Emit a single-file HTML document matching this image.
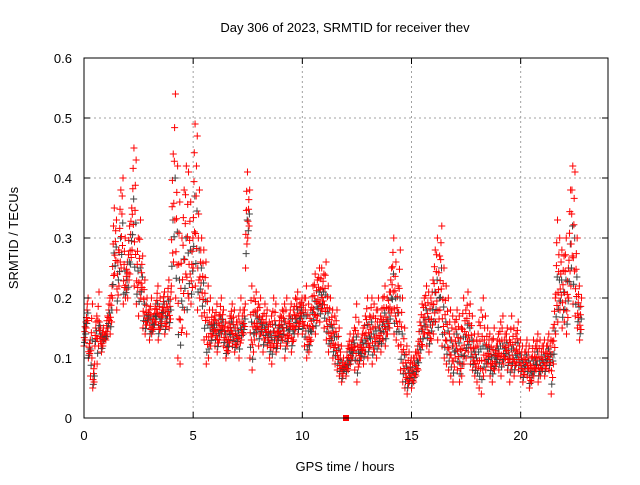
<!DOCTYPE html>
<html><head><meta charset="utf-8"><style>
body{margin:0;background:#fff}
svg text{font-family:"Liberation Sans",sans-serif;font-size:13px;fill:#000}
</style></head><body>
<svg id="chart" width="640" height="480" xmlns="http://www.w3.org/2000/svg">
<rect width="640" height="480" fill="#fff"/>
<g id="grid"></g>
<g id="pts"></g>
<rect x="84" y="58" width="524" height="360" fill="none" stroke="#000" stroke-width="1"/>
<g id="axes"></g>
<text x="345" y="32" text-anchor="middle">Day 306 of 2023, SRMTID for receiver thev</text>
<text x="345" y="471" text-anchor="middle">GPS time / hours</text>
<text x="18" y="238" text-anchor="middle" transform="rotate(-90 18 238)">SRMTID / TECUs</text>
</svg>
<script>
const xTicks=[0,5,10,15,20];
const yTicks=[0,0.1,0.2,0.3,0.4,0.5,0.6];
const yTickLabels=["0","0.1","0.2","0.3","0.4","0.5","0.6"];
const seriesHigh=[0.16,0.2,0.13,0.19,0.09,0.17,0.21,0.12,0.15,0.14,
0.17,0.2,0.22,0.35,0.33,0.28,0.38,0.4,0.3,0.26,
0.32,0.35,0.45,0.43,0.3,0.33,0.27,0.23,0.2,0.18,
0.2,0.17,0.19,0.22,0.2,0.18,0.21,0.19,0.23,0.21,
0.44,0.54,0.42,0.36,0.3,0.38,0.42,0.41,0.36,0.3,
0.49,0.47,0.38,0.3,0.28,0.26,0.22,0.2,0.18,0.17,
0.19,0.17,0.2,0.18,0.16,0.15,0.17,0.19,0.18,0.16,
0.17,0.2,0.18,0.19,0.41,0.38,0.22,0.2,0.21,0.19,
0.2,0.17,0.19,0.18,0.16,0.17,0.2,0.19,0.15,0.17,
0.18,0.19,0.2,0.17,0.19,0.18,0.2,0.21,0.19,0.2,
0.2,0.22,0.19,0.18,0.22,0.24,0.23,0.25,0.25,0.24,
0.26,0.22,0.2,0.18,0.17,0.18,0.15,0.12,0.1,0.09,
0.12,0.14,0.13,0.15,0.19,0.16,0.13,0.15,0.17,0.2,
0.17,0.2,0.19,0.18,0.2,0.17,0.2,0.22,0.2,0.21,
0.25,0.3,0.26,0.22,0.28,0.2,0.15,0.12,0.11,0.1,
0.1,0.11,0.12,0.16,0.19,0.2,0.22,0.21,0.2,0.23,
0.28,0.3,0.27,0.32,0.25,0.22,0.2,0.18,0.17,0.16,
0.18,0.17,0.15,0.2,0.18,0.21,0.19,0.17,0.14,0.13,
0.16,0.18,0.2,0.17,0.15,0.14,0.13,0.15,0.12,0.14,
0.16,0.17,0.14,0.15,0.13,0.17,0.15,0.14,0.16,0.13,
0.12,0.11,0.13,0.12,0.1,0.13,0.12,0.14,0.13,0.12,
0.13,0.12,0.14,0.13,0.15,0.2,0.33,0.3,0.28,0.27,
0.3,0.25,0.38,0.42,0.41,0.3,0.22,0.2];
const seriesLow=[0.12,0.15,0.1,0.07,0.05,0.12,0.09,0.16,0.11,0.13,
0.13,0.15,0.14,0.2,0.24,0.18,0.22,0.25,0.19,0.2,
0.2,0.24,0.28,0.22,0.19,0.17,0.2,0.15,0.14,0.16,
0.13,0.14,0.15,0.16,0.13,0.15,0.17,0.14,0.16,0.15,
0.22,0.26,0.2,0.1,0.09,0.15,0.18,0.14,0.2,0.19,
0.25,0.22,0.18,0.2,0.17,0.13,0.09,0.1,0.12,0.14,
0.12,0.11,0.13,0.14,0.12,0.1,0.11,0.13,0.12,0.11,
0.12,0.1,0.13,0.14,0.25,0.3,0.1,0.08,0.13,0.14,
0.12,0.14,0.11,0.13,0.12,0.1,0.09,0.12,0.11,0.13,
0.12,0.13,0.1,0.12,0.14,0.11,0.13,0.15,0.14,0.16,
0.14,0.12,0.1,0.11,0.13,0.15,0.14,0.17,0.16,0.18,
0.15,0.13,0.11,0.12,0.1,0.09,0.08,0.07,0.06,0.08,
0.07,0.08,0.09,0.1,0.08,0.06,0.09,0.1,0.09,0.11,
0.1,0.12,0.09,0.11,0.1,0.12,0.11,0.13,0.12,0.14,
0.15,0.18,0.14,0.13,0.12,0.08,0.06,0.05,0.04,0.06,
0.05,0.06,0.07,0.08,0.1,0.12,0.14,0.12,0.11,0.13,
0.14,0.16,0.13,0.18,0.12,0.1,0.09,0.08,0.07,0.06,
0.1,0.08,0.06,0.07,0.09,0.1,0.11,0.09,0.08,0.07,
0.06,0.05,0.04,0.07,0.08,0.09,0.07,0.06,0.08,0.09,
0.08,0.07,0.09,0.1,0.08,0.06,0.08,0.07,0.09,0.08,
0.07,0.06,0.08,0.07,0.05,0.06,0.07,0.08,0.06,0.07,
0.08,0.07,0.09,0.08,0.04,0.09,0.14,0.16,0.18,0.15,
0.16,0.14,0.2,0.22,0.19,0.17,0.15,0.13];
const markerTime=[12];
const markerVal=[0];
const NS="http://www.w3.org/2000/svg";
const X0=84,X1=608,Y0=418,Y1=58,XMAX=24,YMAX=0.6;
function sx(v){return X0+(X1-X0)*v/XMAX;}
function sy(v){return Y0-(Y0-Y1)*v/YMAX;}
function mk(tag,at,parent){const e=document.createElementNS(NS,tag);for(const k in at)e.setAttribute(k,at[k]);parent.appendChild(e);return e;}
const grid=document.getElementById('grid'),axes=document.getElementById('axes'),pts=document.getElementById('pts');
xTicks.forEach(t=>{const x=sx(t);
 const g=mk('line',{x1:x,x2:x,y1:Y0,y2:Y1,stroke:'#a0a0a0','stroke-dasharray':'2,3'},grid);
 
 
 mk('line',{x1:x,x2:x,y1:Y0,y2:Y0-6,stroke:'#000'},axes);
 mk('line',{x1:x,x2:x,y1:Y1,y2:Y1+6,stroke:'#000'},axes);
 const tx=mk('text',{x:x,y:Y0+22,'text-anchor':'middle'},axes);tx.textContent=t;
 
 
});
yTicks.forEach((t,i)=>{const y=sy(t);
 const g=mk('line',{x1:X0,x2:X1,y1:y,y2:y,stroke:'#a0a0a0','stroke-dasharray':'2,3'},grid);
 
 
 mk('line',{x1:X0,x2:X0+6,y1:y,y2:y,stroke:'#000'},axes);
 mk('line',{x1:X1,x2:X1-6,y1:y,y2:y,stroke:'#000'},axes);
 const tx=mk('text',{x:X0-12,y:y+5,'text-anchor':'end'},axes);tx.textContent=yTickLabels[i];
 
 
});
function cross(t,v,col){const x=sx(t),y=sy(v);
 const p=mk('path',{d:`M${x-3.5},${y}h7M${x},${y-3.5}v7`,stroke:col,'stroke-width':1},pts);
 
 
}
const fr=[0,0.35,0.15,0.6,0.8,0.25,0.5,1];
seriesHigh.forEach((v,i)=>{const lo=seriesLow[i];
 fr.forEach((f,k)=>{cross(i*0.1+k*0.0125,lo+(v-lo)*f,k===2||k===6?'#404040':'#ff0000');});
});
markerTime.forEach((t,i)=>{const r=mk('rect',{x:sx(t)-3,y:sy(markerVal[i])-3,width:6,height:6,fill:'#ff0000'},pts);
 
 });
</script>
</body></html>
